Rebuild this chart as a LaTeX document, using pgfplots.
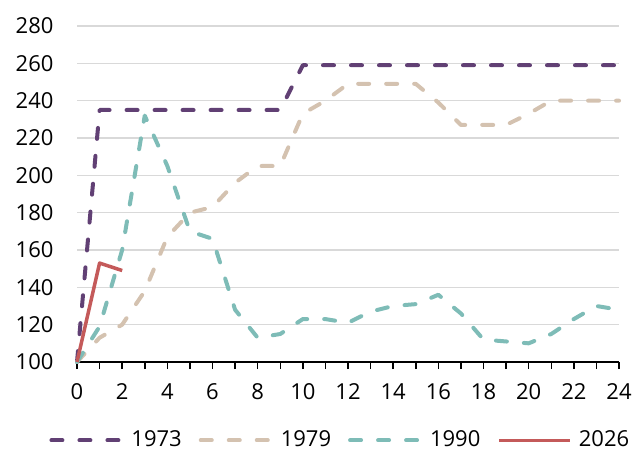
\documentclass[border=0pt]{standalone}
\usepackage{pgfplots}
\pgfplotsset{compat=1.18}
\usepackage{fontspec}
\setmainfont{Open Sans}
\definecolor{cA}{RGB}{97,64,116}
\definecolor{cB}{RGB}{212,194,176}
\definecolor{cC}{RGB}{126,188,183}
\definecolor{cD}{RGB}{196,90,90}
\begin{document}
\fontsize{22pt}{26pt}\selectfont
\begin{tikzpicture}
\path[use as bounding box] (0,0) rectangle (643pt,453pt);
\begin{axis}[
  at={(77pt,91pt)}, anchor=south west,
  scale only axis, width=542pt, height=336pt,
  xmin=0, xmax=24, ymin=100, ymax=280,
  xtick={0,2,...,24}, minor xtick={1,3,...,23},
  ytick={100,120,...,280},
  axis lines*=left,
  x axis line style={black, line width=1.8pt, -},
  y axis line style={draw=none},
  tick align=outside,
  xtick style={black, line width=1.5pt},
  minor tick style={black, line width=1.5pt},
  major tick length=7pt, minor tick length=7pt,
  ytick style={draw=none},
  ymajorgrids, grid style={color=black!15, line width=1.4pt},
  /pgf/number format/assume math mode=true,
  ticklabel style={font=\fontsize{22pt}{26pt}\selectfont},
  xticklabel style={yshift=-7pt},
  yticklabel style={xshift=-9pt},
  clip=false,
  legend style={at={(0.484,-0.233)}, anchor=center, draw=none, fill=none,
    legend columns=4, font=\fontsize{22pt}{26pt}\selectfont,
    nodes={inner sep=0pt},
    /tikz/every odd column/.style={column sep=7pt},
    /tikz/every even column/.style={column sep=17pt}},
  legend image code/.code={\draw[#1] (0pt,0pt) -- (71pt,0pt);},
  every axis plot/.append style={line width=4pt, line cap=round, line join=round},
]
\addplot[cA, dash pattern=on 11pt off 17pt] coordinates {
(0,100)(1,235)(2,235)(3,235)(4,235)(5,235)(6,235)(7,235)(8,235)(9,235)
(10,259)(11,259)(12,259)(13,259)(14,259)(15,259)(16,259)(17,259)(18,259)
(19,259)(20,259)(21,259)(22,259)(23,259)(24,259)};
\addlegendentry{1973}
\addplot[cB, dash pattern=on 11pt off 17pt] coordinates {
(0,100)(1,113)(2,120)(3,138)(4,167)(5,180)(6,183)(7,196)(8,205)(9,205)
(10,233)(11,240)(12,249)(13,249)(14,249)(15,249)(16,239)(17,227)(18,227)
(19,227)(20,233)(21,240)(22,240)(23,240)(24,240)};
\addlegendentry{1979}
\addplot[cC, dash pattern=on 11pt off 17pt] coordinates {
(0,100)(1,119)(2,160)(3,232)(4,205)(5,170)(6,166)(7,128)(8,113)(9,115)
(10,123)(11,123)(12,121)(13,127)(14,130)(15,131)(16,136)(17,126)(18,112)
(19,111)(20,110)(21,115)(22,123)(23,130)(24,128)};
\addlegendentry{1990}
\addplot[cD, line width=3.5pt, line cap=butt] coordinates {
(0,100)(1,153)(2,149)};
\addlegendentry{2026}
\end{axis}
\end{tikzpicture}
\end{document}
